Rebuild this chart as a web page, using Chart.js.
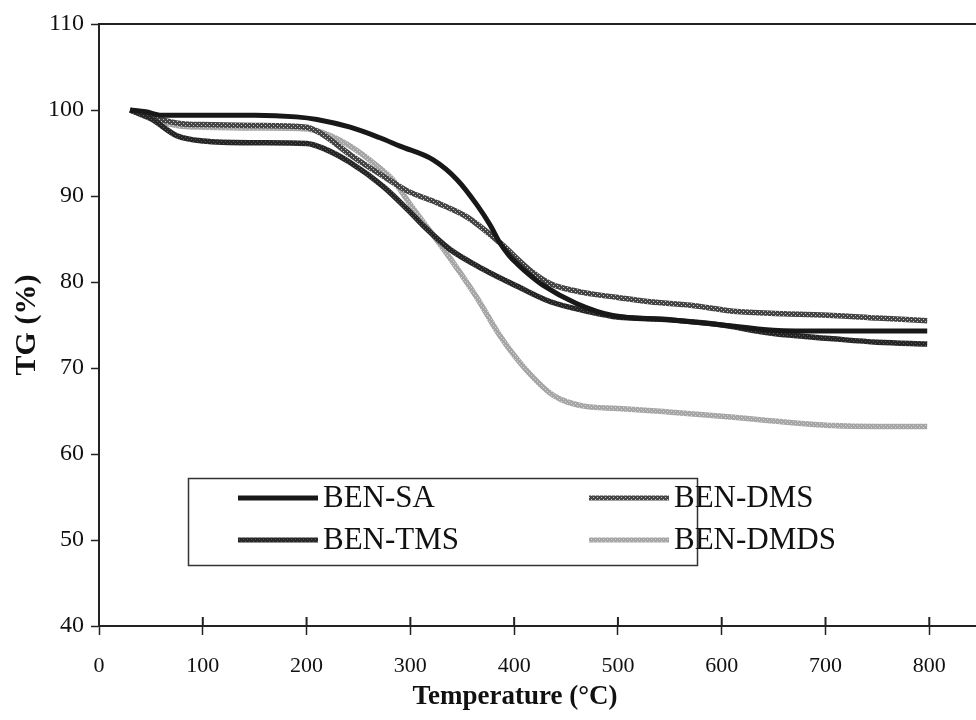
<!DOCTYPE html>
<html>
<head>
<meta charset="utf-8">
<script src="https://cdn.jsdelivr.net/npm/chart.js@4.4.1/dist/chart.umd.min.js"></script>
<style>
body{margin:0;background:#fff}
</style>
</head>
<body>
<canvas id="lienzo" width="976" height="720"></canvas>
<script>
// temperatura (°C) y TG (%)
const tSA = [30, 45, 60, 100, 150, 190, 210, 242, 270, 290, 322, 345, 364, 377, 386, 395, 403, 415, 428, 460, 495, 550, 594, 650, 700, 750, 798]
const gSA = [100, 99.8, 99.4, 99.4, 99.4, 99.2, 98.9, 98.0, 96.8, 95.8, 94.2, 91.9, 89.0, 86.6, 84.6, 83.1, 82.1, 80.8, 79.6, 77.5, 76.1, 75.6, 75.1, 74.4, 74.3, 74.3, 74.3]
const tTMS = [30, 50, 75, 100, 150, 200, 215, 242, 274, 300, 312, 338, 370, 403, 435, 470, 495, 550, 594, 650, 707, 750, 798]
const gTMS = [100, 99.0, 97.0, 96.4, 96.2, 96.1, 95.6, 93.9, 91.1, 88.1, 86.6, 83.8, 81.5, 79.5, 77.7, 76.6, 76.0, 75.6, 75.1, 74.0, 73.4, 73.0, 72.8]
const tDMS = [30, 50, 80, 100, 150, 200, 215, 242, 274, 297, 326, 354, 386, 418, 435, 466, 500, 531, 570, 611, 660, 707, 750, 798]
const gDMS = [100, 99.2, 98.4, 98.3, 98.2, 98.0, 97.2, 94.8, 92.3, 90.6, 89.2, 87.6, 84.6, 81.1, 79.8, 78.8, 78.2, 77.7, 77.3, 76.6, 76.3, 76.1, 75.8, 75.5]
const tDMDS = [30, 50, 80, 100, 150, 200, 215, 242, 268, 283, 300, 316, 338, 364, 386, 410, 438, 466, 500, 547, 600, 644, 707, 750, 798]
const gDMDS = [100, 99.0, 98.1, 98.0, 97.9, 97.8, 97.4, 95.8, 93.5, 91.9, 89.0, 86.4, 82.8, 78.2, 73.8, 70.0, 66.8, 65.6, 65.3, 64.9, 64.4, 63.9, 63.3, 63.2, 63.2]
const nombres = ["BEN-SA", "BEN-TMS", "BEN-DMS", "BEN-DMDS"]
const xTitulo = "Temperature (°C)"
const yTitulo = "TG (%)"

const ctx = document.getElementById("lienzo").getContext("2d")

function textura(fondo, punto){
    let c = document.createElement("canvas")
    c.width = 4; c.height = 4
    let g = c.getContext("2d")
    g.fillStyle = fondo
    g.fillRect(0,0,4,4)
    g.fillStyle = punto
    g.fillRect(1,1,1,1)
    g.fillRect(3,3,1,1)
    return ctx.createPattern(c, "repeat")
}

function puntos(t, g){
    let out = []
    for (let i = 0; i < t.length; i++) out.push({x:t[i], y:g[i]})
    return out
}

const colores = [
    "#181818",
    textura("#262626", "#5a5a5a"),
    textura("#454545", "#c8c8c8"),
    textura("#a6a6a6", "#d6d6d6")
]
const series = [puntos(tSA,gSA), puntos(tTMS,gTMS), puntos(tDMS,gDMS), puntos(tDMDS,gDMDS)]

const serif = "'Liberation Serif', 'Times New Roman', serif"

const marco = {
    id: "marco",
    afterDraw(chart){
        const c = chart.ctx
        const a = chart.chartArea
        const sx = chart.scales.x
        c.save()
        c.strokeStyle = "#222"
        c.lineWidth = 2
        c.beginPath()
        c.moveTo(a.left, a.top)
        c.lineTo(a.right, a.top)
        // rayitas de x por encima del eje
        for (let t of sx.ticks) {
            let px = sx.getPixelForValue(t.value)
            c.moveTo(px, a.bottom - 9)
            c.lineTo(px, a.bottom)
        }
        c.stroke()

        c.fillStyle = "#111"
        c.font = "bold 27px " + serif
        c.textAlign = "center"
        c.textBaseline = "middle"
        c.fillText(xTitulo, 515, 697)

        // leyenda
        c.fillStyle = "#fff"
        c.fillRect(188, 478, 509, 87)
        c.lineWidth = 1.5
        c.strokeStyle = "#333"
        c.strokeRect(188.5, 478.5, 509, 87)
        const sitios = [[238, 498], [238, 540], [589, 498], [589, 540]]
        c.font = "31px " + serif
        c.textAlign = "left"
        chart.data.datasets.forEach((ds, i) => {
            let [lx, ly] = sitios[i]
            c.strokeStyle = ds.borderColor
            c.lineWidth = 5
            c.beginPath()
            c.moveTo(lx, ly)
            c.lineTo(lx + 80, ly)
            c.stroke()
            c.fillStyle = "#111"
            c.fillText(ds.label, lx + 85, ly + 1)
        })
        c.restore()
    }
}

new Chart(ctx, {
    type: "line",
    data: {
        datasets: series.map((d, i) => ({
            label: nombres[i],
            data: d,
            borderColor: colores[i],
            borderWidth: i == 0 ? 5 : 5.5,
            pointRadius: 0,
            fill: false,
            cubicInterpolationMode: "monotone"
        }))
    },
    options: {
        responsive: false,
        animation: false,
        layout: {padding: {top: 24, left: 0, right: 0, bottom: 0}},
        plugins: {legend: {display: false}, tooltip: {enabled: false}},
        scales: {
            x: {
                type: "linear",
                min: 0,
                max: 845,
                afterFit: s => { s.height = 94 },
                border: {display: true, color: "#222", width: 2},
                grid: {drawOnChartArea: false, drawTicks: true, tickLength: 9, tickColor: "#222", tickWidth: 1.5},
                ticks: {stepSize: 100, includeBounds: false, padding: 18, color: "#111", maxRotation: 0,
                    font: {family: serif, size: 22}}
            },
            y: {
                min: 40,
                max: 110,
                afterFit: s => { s.width = 99 },
                border: {display: true, color: "#222", width: 2},
                grid: {drawOnChartArea: false, drawTicks: true, tickLength: 8, tickColor: "#222", tickWidth: 1.5},
                ticks: {stepSize: 10, padding: 7, color: "#111", font: {family: serif, size: 24}},
                title: {display: true, text: yTitulo, color: "#111", padding: {top: 9, bottom: 0},
                    font: {family: serif, size: 30, weight: "bold"}}
            }
        }
    },
    plugins: [marco]
})
</script>
</body>
</html>
